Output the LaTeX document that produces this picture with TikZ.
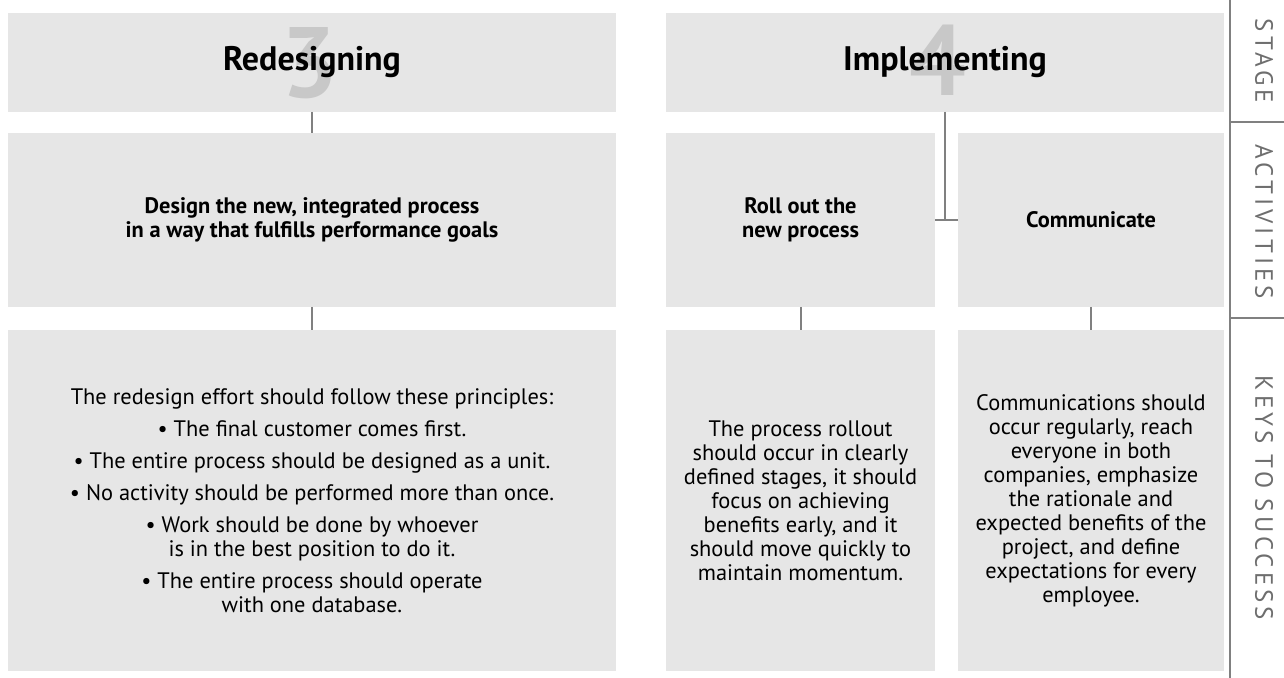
\documentclass[tikz,border=0pt]{standalone}
\usepackage{fontspec}
\setmainfont{PT Sans}
\newfontfamily\sidefont[LetterSpace=16]{PT Sans}
\definecolor{boxgray}{HTML}{E6E6E6}
\definecolor{linegray}{HTML}{808080}
\definecolor{numgray}{HTML}{C8C8C8}
\definecolor{sidegray}{HTML}{6E6E6E}

\begin{document}
\begin{tikzpicture}[x=0.5pt,y=-0.5pt,
                    panel/.style={fill=boxgray,inner sep=0pt,outer sep=0pt,align=center},
                    headbox/.style={panel,minimum height=49.5pt},
                    actbox/.style={panel,minimum height=87pt,font=\bfseries\fontsize{11.2}{12}\selectfont},
                    keybox/.style={panel,minimum height=170.5pt,font=\fontsize{11.2}{12}\selectfont},
                    bignum/.style={text=numgray,font=\bfseries\fontsize{50}{50}\selectfont},
                    headtitle/.style={font=\bfseries\fontsize{17}{20}\selectfont},
                    link/.style={draw=linegray,line width=1pt},
                    sidelabel/.style={text=sidegray,rotate=-90,font=\sidefont\fontsize{12.5}{14}\selectfont}]
                    \useasboundingbox (0,0) rectangle (1284,678);
                    \node[headbox,minimum width=304pt] (head3) at (312,62.5) {};
                    \node[bignum] (num3) at (310,63) {3};
                    \node[headtitle] (title3) at (head3) {Redesigning};
                    \node[headbox,minimum width=279pt] (head4) at (945,62.5) {};
                    \node[bignum] (num4) at (938,60) {4};
                    \node[headtitle] (title4) at (head4) {Implementing};
                    \node[actbox,minimum width=304pt] (act3) at (312,220) {Design the new, integrated process\\in a way that fulfills performance goals};
                    \node[actbox,minimum width=134.5pt] (actroll) at (800.5,220) {Roll out the\\new process};
                    \node[actbox,minimum width=133pt] (actcomm) at (1091,220) {Communicate};
                    \node[keybox,minimum width=304pt] (key3) at (312,500.5) {The redesign effort should follow these principles:\\[4pt]
                        • The final customer comes first.\\[4pt]
                        • The entire process should be designed as a unit.\\[4pt]
                        • No activity should be performed more than once.\\[4pt]
                        • Work should be done by whoever\\is in the best position to do it.\\[4pt]
                        • The entire process should operate\\with one database.};
                    \node[keybox,minimum width=134.5pt] (keyroll) at (800.5,500.5) {The process rollout\\should occur in clearly\\defined stages, it should\\focus on achieving\\benefits early, and it\\should move quickly to\\maintain momentum.};
                    \node[keybox,minimum width=133pt] (keycomm) at (1091,500.5) {Communications should\\occur regularly, reach\\everyone in both\\companies, emphasize\\the rationale and\\expected benefits of the\\project, and define\\expectations for every\\employee.};
                    \draw[link] (head3.south)--(act3.north);
                    \draw[link] (act3.south)--(key3.north);
                    \draw[link] (head4.south)--(head4.south |- actroll.east);
                    \draw[link] (actroll.east)--(actcomm.west);
                    \draw[link] (actroll.south)--(keyroll.north);
                    \draw[link] (actcomm.south)--(keycomm.north);
                    \coordinate (railtop) at (1230,0);
                    \coordinate (railbot) at (1230,678);
                    \draw[link] (railtop)--(railbot);
                    \draw[link] (1230,122.5)--(1284,122.5);
                    \draw[link] (1230,318.5)--(1284,318.5);
                    \node[sidelabel] (stage) at (1264,61) {STAGE};
                    \node[sidelabel] (activities) at (1264,222) {ACTIVITIES};
                    \node[sidelabel] (keys) at (1264,498) {KEYS TO SUCCESS};
                \end{tikzpicture}
\end{document}
